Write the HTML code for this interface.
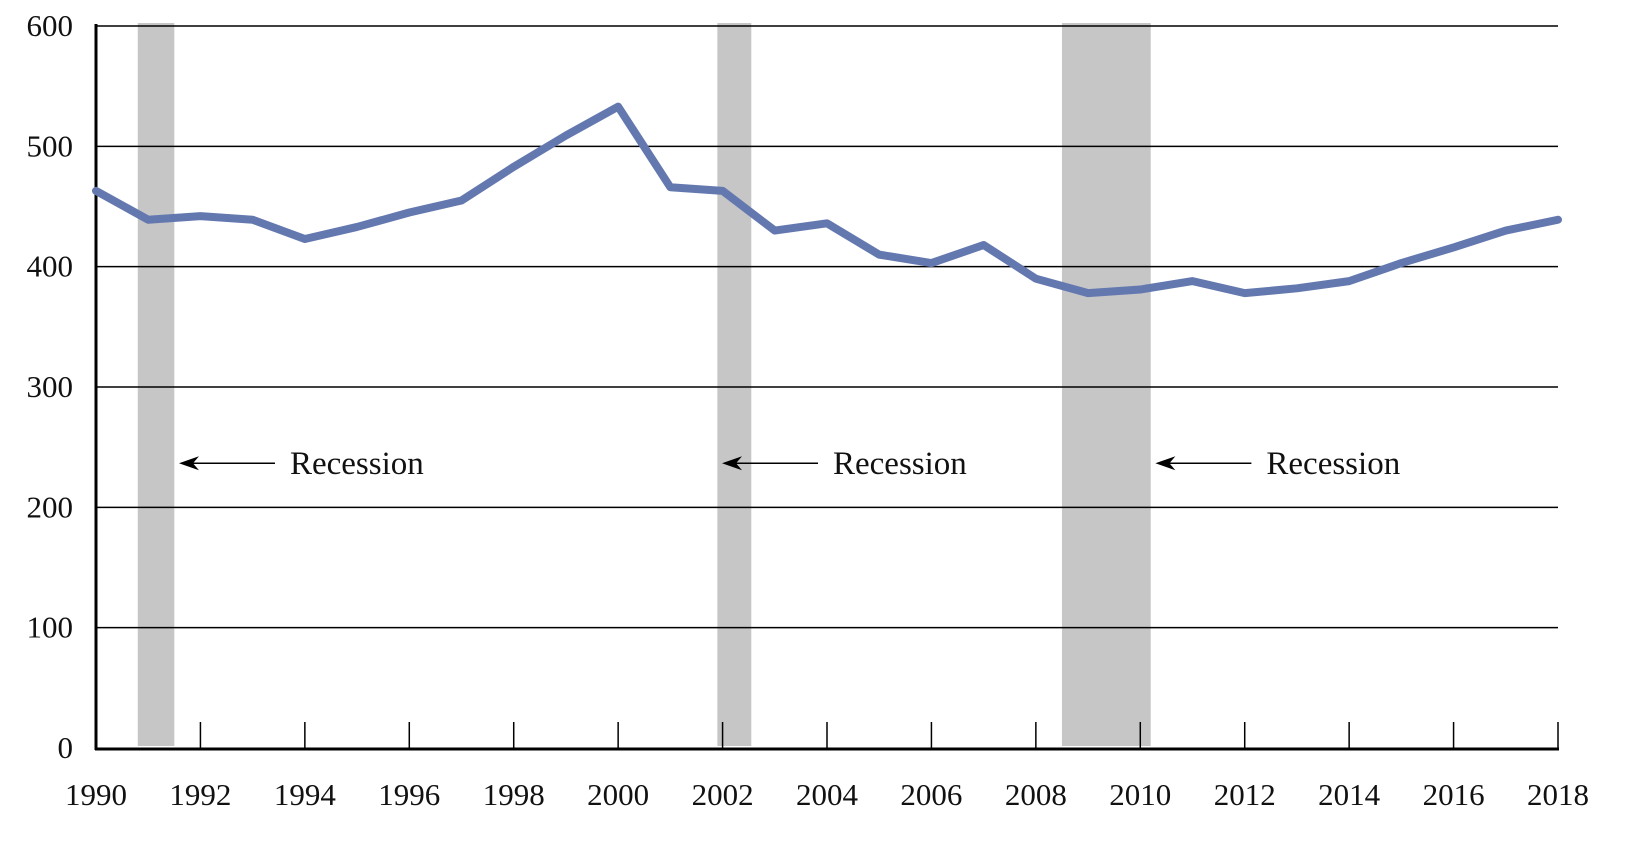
<!DOCTYPE html>
<html><head><meta charset="utf-8"><style>
html,body{margin:0;padding:0;background:#fff;}
svg{display:block;font-family:"Liberation Serif",serif;}
</style></head><body>
<svg id="chart" width="1640" height="856" viewBox="0 0 1640 856" xmlns="http://www.w3.org/2000/svg">
<g id="rec"></g>
<g id="grid"></g>
<g id="axes"></g>
<g id="ann"></g>
<g id="series"></g>
</svg>
<script>
const years = [1990,1991,1992,1993,1994,1995,1996,1997,1998,1999,2000,2001,2002,2003,2004,2005,2006,2007,2008,2009,2010,2011,2012,2013,2014,2015,2016,2017,2018];
const values = [463,439,442,439,423,433,445,455,483,509,533,466,463,430,436,410,403,418,390,378,381,388,378,382,388,403,416,430,439];
const yTicks = [0,100,200,300,400,500,600];
const xTickLabels = [1990,1992,1994,1996,1998,2000,2002,2004,2006,2008,2010,2012,2014,2016,2018];
const recessionStarts = [1990.8,2001.9,2008.5];
const recessionEnds = [1991.5,2001.95+0.6,2010.2];
const recessionLabelYear = [1991.8,2002.2,2010.5];
const recessionLabelValue = [240,240,240];

const NS="http://www.w3.org/2000/svg";
const X0=96, X1=1558, Y0=748, Y1=26;
const x = v => X0 + (v-1990)/(2018-1990)*(X1-X0);
const y = v => Y0 - v/600*(Y0-Y1);
function mk(tag, attrs, parent){const e=document.createElementNS(NS,tag);for(const k in attrs)e.setAttribute(k,attrs[k]);parent.appendChild(e);return e;}
const g = id => document.getElementById(id);

recessionStarts.forEach((s,i)=>{
  const r = mk('rect',{x:x(s),y:23,width:x(recessionEnds[i])-x(s),height:723,fill:'#c6c6c6'},g('rec'));
  
  
});

yTicks.forEach(t=>{
  if(t>0){
    const l = mk('line',{x1:X0,x2:X1,y1:y(t),y2:y(t),stroke:'#000','stroke-width':1.5},g('grid'));
    
    
  }
  const tx = mk('text',{x:73,y:y(t)+10,'text-anchor':'end','font-size':31,fill:'#111'},g('axes'));
  tx.textContent=t;
  
  
});

const ax = mk('line',{x1:X0,x2:X0,y1:Y1-2,y2:Y0+2,stroke:'#000','stroke-width':3},g('axes'));


const bx = mk('line',{x1:X0-1,x2:X1+1,y1:Y0+1,y2:Y0+1,stroke:'#000','stroke-width':3},g('axes'));



xTickLabels.forEach(t=>{
  if(t>1990){
    const tk = mk('line',{x1:x(t),x2:x(t),y1:Y0-26,y2:Y0,stroke:'#000','stroke-width':1.5},g('axes'));
    
    
  }
  const tx = mk('text',{x:x(t),y:805,'text-anchor':'middle','font-size':31,fill:'#111'},g('axes'));
  tx.textContent=t;
  
  
});

recessionLabelYear.forEach((yr,i)=>{
  const ax0=x(yr)-11, ay=y(recessionLabelValue[i])+4;
  const ln = mk('line',{x1:ax0+8,x2:ax0+96,y1:ay,y2:ay,stroke:'#000','stroke-width':1.5},g('ann'));
  
  
  const hd = mk('path',{d:`M${ax0},${ay} L${ax0+20},${ay-7} L${ax0+14},${ay} L${ax0+20},${ay+7} Z`,fill:'#000'},g('ann'));
  
  
  const tx = mk('text',{x:ax0+111,y:ay+11,'font-size':33,fill:'#111'},g('ann'));
  tx.textContent='Recession';
  
  
});

const pts = years.map((yr,i)=>x(yr)+','+y(values[i])).join(' ');
const pl = mk('polyline',{points:pts,fill:'none',stroke:'#6478b0','stroke-width':8,'stroke-linejoin':'round','stroke-linecap':'round'},g('series'));


</script>
</body></html>
